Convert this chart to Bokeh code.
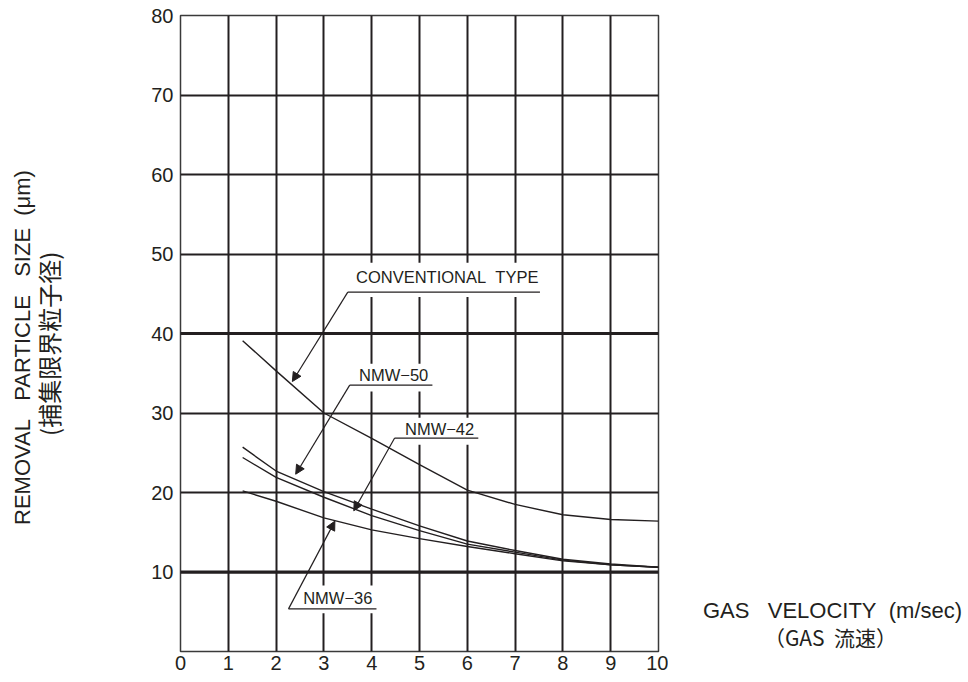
from bokeh.plotting import figure
from bokeh.layouts import row
from bokeh.models import Range1d, Arrow, NormalHead, Span, FixedTicker
from bokeh.core.properties import value
from bokeh.embed import file_html
from bokeh.resources import INLINE

# ---- data ----
gas_velocity = [1.3, 2, 3, 4, 5, 6, 7, 8, 9, 10]
conventional = [39.1, 35.3, 30.0, 26.8, 23.5, 20.3, 18.5, 17.2, 16.6, 16.4]
nmw50 = [25.7, 22.7, 20.1, 17.9, 15.8, 13.9, 12.7, 11.6, 11.0, 10.6]
nmw42 = [24.4, 21.9, 19.4, 17.1, 15.2, 13.5, 12.5, 11.5, 10.9, 10.6]
nmw36 = [20.2, 18.9, 16.8, 15.3, 14.2, 13.2, 12.3, 11.4, 10.9, 10.6]

x_ticks = [0, 1, 2, 3, 4, 5, 6, 7, 8, 9, 10]
y_ticks = [10, 20, 30, 40, 50, 60, 70, 80]

# callout labels
callout_text = ["CONVENTIONAL\u00a0\u00a0TYPE", "NMW\u221250", "NMW\u221242", "NMW\u221236"]
callout_text_x = [5.58, 4.46, 5.42, 3.29]
callout_text_y = [47.1, 34.8, 28.0, 6.7]
underline_x0 = [3.5, 3.54, 4.48, 2.26]
underline_x1 = [7.52, 5.27, 6.23, 4.10]
underline_y = [45.2, 33.5, 26.85, 5.36]
arrow_tip_x = [2.34, 2.41, 3.625, 3.23]
arrow_tip_y = [33.96, 22.3, 17.7, 16.4]
box_left = [3.6, 3.6, 4.5, 2.3]
box_right = [7.65, 5.4, 6.3, 4.15]
box_bottom = [44.6, 32.7, 26.0, 4.8]
box_top = [48.9, 36.2, 29.4, 8.3]

NB = "\u00a0"
y_title = ["REMOVAL" + NB * 3 + "PARTICLE" + NB * 3 + "SIZE" + NB * 2 + "(\u03bcm)",
           "(\u6355\u96c6\u9650\u754c\u7c92\u5b50\u5f84)"]
x_title = ["GAS" + NB * 3 + "VELOCITY" + NB * 2 + "(m/sec)",
           "\uff08GAS" + NB * 2 + "\u6d41\u901f\uff09"]

INK = "#231f20"
FONT = "Liberation Sans"
H = 680
LEFT_W = 110
MAIN_W = 558
RIGHT_W = 300


def blank(width):
    f = figure(width=width, height=H, x_range=Range1d(0, width), y_range=Range1d(0, H),
               output_backend="svg", toolbar_location=None,
               x_axis_location=None, y_axis_location=None,
               min_border=0)
    f.grid.visible = False
    f.outline_line_color = None
    f.background_fill_color = "white"
    f.border_fill_color = "white"
    return f


# left panel: y-axis title (two rotated lines)
left = blank(LEFT_W)
left.text(x=[22], y=[H - 355], text=[y_title[0]], angle=[1.5708],
          text_font=value(FONT), text_font_size="22px", text_color=INK,
          text_align="center", text_baseline="middle")
left.text(x=[48], y=[H - 351], text=[y_title[1]], angle=[1.5708],
          text_font=value("Noto Sans CJK JP"), text_font_size="24px", text_color=INK,
          text_align="center", text_baseline="middle")

# main chart
p = figure(width=MAIN_W, height=H, x_range=Range1d(0, 10), y_range=Range1d(0, 80),
           output_backend="svg", toolbar_location=None,
           min_border_left=180 - LEFT_W, min_border_right=10, min_border_top=15,
           min_border_bottom=H - 15 - 636)
p.background_fill_color = "white"
p.border_fill_color = "white"
p.outline_line_color = "#3a3a3a"
p.outline_line_width = 1.5

for ax, ticks in ((p.xaxis, x_ticks), (p.yaxis, y_ticks)):
    ax.ticker = FixedTicker(ticks=ticks)
    ax.axis_line_color = None
    ax.major_tick_line_color = None
    ax.minor_tick_line_color = None
    ax.major_tick_out = 0
    ax.major_tick_in = 0
    ax.major_label_text_font = FONT
    ax.major_label_text_font_size = "20px"
    ax.major_label_text_color = INK
p.xaxis.major_label_standoff = 4
p.yaxis.major_label_standoff = 7

p.xgrid.grid_line_color = INK
p.xgrid.grid_line_width = 2
p.ygrid.grid_line_color = INK
p.ygrid.grid_line_width = 1.8

for yv in (10, 40):
    p.add_layout(Span(location=yv, dimension="width", line_color=INK, line_width=3, level="underlay"))

# white boxes behind callout labels
p.quad(left=box_left, right=box_right, bottom=box_bottom, top=box_top,
       fill_color="white", line_color=None)

# curves
for series in (conventional, nmw50, nmw42, nmw36):
    p.line(gas_velocity, series, line_color=INK, line_width=1.4)

# underlines
p.segment(x0=underline_x0, y0=underline_y, x1=underline_x1, y1=underline_y,
          line_color=INK, line_width=1.3)

# leader arrows
for i in range(len(callout_text)):
    p.add_layout(Arrow(end=NormalHead(size=9, fill_color=INK, line_color=INK),
                       x_start=underline_x0[i], y_start=underline_y[i],
                       x_end=arrow_tip_x[i], y_end=arrow_tip_y[i],
                       line_color=INK, line_width=1.2))

p.text(x=callout_text_x, y=callout_text_y, text=callout_text,
       text_font=value(FONT), text_font_size="16.5px",
       text_align="center", text_baseline="middle", text_color=INK)

# right panel: x-axis title
RIGHT_X0 = LEFT_W + MAIN_W
right = blank(RIGHT_W)
right.text(x=[832 - RIGHT_X0], y=[H - 636], text=[x_title[0]],
           text_font=value(FONT), text_font_size="22px", text_color=INK,
           text_align="center", text_baseline="middle")
right.text(x=[830 - RIGHT_X0], y=[H - 665], text=[x_title[1]],
           text_font=value("Noto Sans CJK JP"), text_font_size="21px", text_color=INK,
           text_align="center", text_baseline="middle")

layout = row(left, p, right, spacing=0)
open("out.html", "w").write(file_html(layout, INLINE))
